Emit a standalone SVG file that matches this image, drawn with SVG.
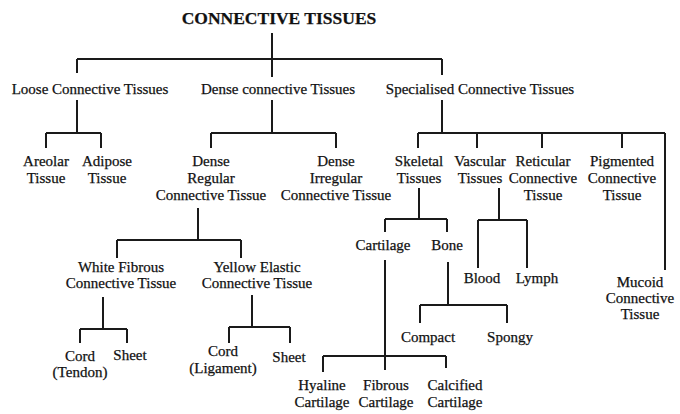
<svg xmlns="http://www.w3.org/2000/svg" width="680" height="414" viewBox="0 0 680 414">
<style>
text{font-family:"Liberation Serif","Times New Roman",serif;font-size:15px;fill:#111;stroke:#111;stroke-width:0.25;text-anchor:middle}
.title{font-weight:bold;font-size:17.5px}
.c path{fill:none;stroke:#1a1a1a;stroke-width:2}
</style>
<rect width="680" height="414" fill="#fff"/>
<g class="c" id="connectors">
<path d="M272,33V77M77,59H442M77,59V73M442,59V75"/>
<path d="M77,100V133M46,133H101M46,133V148M101,133V148"/>
<path d="M272,100V133M211,133H336M211,133V148M336,133V148"/>
<path d="M442,100V133M418,133H665M418,133V148M477,133V148M542,133V148M622,133V148M665,133V270"/>
<path d="M198,208V240M117,240H241M117,240V258M241,240V258"/>
<path d="M103,297V329M80,329H127M80,329V343M127,329V343"/>
<path d="M252,295V327M229,327H290M229,327V343M290,327V343"/>
<path d="M419,188V219M385,219H447M385,219V232M447,219V232"/>
<path d="M499,188V220M478,220H527M478,220V268M527,220V268"/>
<path d="M385,260V370M323,356H446M323,356V372M446,356V368"/>
<path d="M448,262V305M420,305H507M420,305V323M507,305V323"/>
</g>
<g id="root"><text class="title" x="279" y="24">CONNECTIVE TISSUES</text></g>
<g id="loose"><text x="90" y="94">Loose Connective Tissues</text></g>
<g id="dense"><text x="278" y="94">Dense connective Tissues</text></g>
<g id="specialised"><text x="480" y="94">Specialised Connective Tissues</text></g>
<g id="areolar"><text x="46" y="166">Areolar</text><text x="46" y="183">Tissue</text></g>
<g id="adipose"><text x="107" y="166">Adipose</text><text x="107" y="183">Tissue</text></g>
<g id="dense-regular"><text x="211" y="166">Dense</text><text x="211" y="183">Regular</text><text x="211" y="200">Connective Tissue</text></g>
<g id="dense-irregular"><text x="336" y="166">Dense</text><text x="336" y="183">Irregular</text><text x="336" y="200">Connective Tissue</text></g>
<g id="skeletal"><text x="419" y="166">Skeletal</text><text x="419" y="183">Tissues</text></g>
<g id="vascular"><text x="480" y="166">Vascular</text><text x="480" y="183">Tissues</text></g>
<g id="reticular"><text x="543" y="166">Reticular</text><text x="543" y="183">Connective</text><text x="543" y="200">Tissue</text></g>
<g id="pigmented"><text x="622" y="166">Pigmented</text><text x="622" y="183">Connective</text><text x="622" y="200">Tissue</text></g>
<g id="white-fibrous"><text x="121" y="272">White Fibrous</text><text x="121" y="288">Connective Tissue</text></g>
<g id="yellow-elastic"><text x="257" y="272">Yellow Elastic</text><text x="257" y="288">Connective Tissue</text></g>
<g id="cord-tendon"><text x="80" y="361">Cord</text><text x="80" y="377">(Tendon)</text></g>
<g id="sheet-1"><text x="130" y="360">Sheet</text></g>
<g id="cord-ligament"><text x="223" y="356">Cord</text><text x="223" y="373">(Ligament)</text></g>
<g id="sheet-2"><text x="289" y="362">Sheet</text></g>
<g id="cartilage"><text x="383" y="250">Cartilage</text></g>
<g id="bone"><text x="447" y="250">Bone</text></g>
<g id="blood"><text x="482" y="283">Blood</text></g>
<g id="lymph"><text x="537" y="283">Lymph</text></g>
<g id="mucoid"><text x="640" y="287">Mucoid</text><text x="640" y="303">Connective</text><text x="640" y="319">Tissue</text></g>
<g id="compact"><text x="428" y="342">Compact</text></g>
<g id="spongy"><text x="510" y="342">Spongy</text></g>
<g id="hyaline"><text x="322" y="390">Hyaline</text><text x="322" y="407">Cartilage</text></g>
<g id="fibrous"><text x="386" y="390">Fibrous</text><text x="386" y="407">Cartilage</text></g>
<g id="calcified"><text x="455" y="390">Calcified</text><text x="455" y="407">Cartilage</text></g>
</svg>
